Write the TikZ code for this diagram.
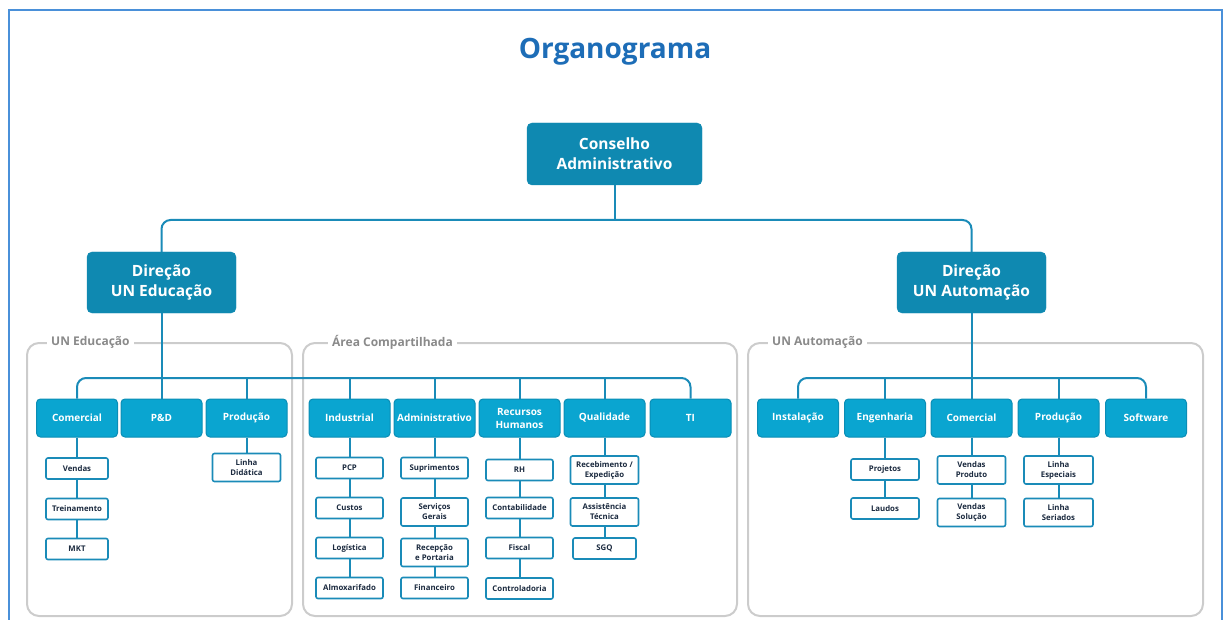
\documentclass[tikz,border=0pt]{standalone}
\usepackage{fontspec}
\setmainfont{Open Sans}
\definecolor{framec}{HTML}{4A90D9}
\definecolor{titlec}{HTML}{1D6DB7}
\definecolor{topc}{HTML}{0F89B1}
\definecolor{midc}{HTML}{0AA5D0}
\definecolor{midb}{HTML}{0B8DB5}
\definecolor{linec}{HTML}{1A8BB8}
\definecolor{grpc}{HTML}{CCCCCC}
\definecolor{grpt}{HTML}{8A8A8A}
\definecolor{smallt}{HTML}{1B2A3F}
\tikzset{
  topbox/.style={draw=topc,fill=topc,rounded corners=5pt,text=white,align=center,
    font=\bfseries\fontsize{15.5}{20}\selectfont,minimum height=61pt,inner sep=0pt},
  midbox/.style={draw=midb,line width=1pt,fill=midc,rounded corners=4pt,text=white,align=center,
    font=\bfseries\fontsize{10}{13}\selectfont,minimum width=81pt,minimum height=38pt,inner sep=0pt},
  smallbox/.style={draw=linec,line width=1.6pt,fill=white,rounded corners=2pt,text=smallt,align=center,
    font=\bfseries\fontsize{7.8}{10}\selectfont,minimum width=67pt,minimum height=21pt,inner sep=0pt},
  twoline/.style={minimum height=28pt},
  conn/.style={draw=linec,line width=2pt},
  grp/.style={draw=grpc,line width=2pt,rounded corners=12pt},
  grplabel/.style={fill=white,text=grpt,font=\bfseries\fontsize{12}{14}\selectfont,inner xsep=4pt,inner ysep=1pt,anchor=west}
}
\begin{document}
\begin{tikzpicture}[x=1pt,y=-1pt]
\useasboundingbox (0,0) rectangle (1223,620);
% frame
\draw[framec,line width=2pt] (9,620) -- (9,10) -- (1222,10) -- (1222,620);
\node[text=titlec,font=\bfseries\fontsize{28}{32}\selectfont] (title) at (615,52) {Organograma};
% groups
\draw[grp] (27,343) rectangle (292,616);
\draw[grp] (303,343) rectangle (737,616);
\draw[grp] (748,343) rectangle (1203,616);
\node[grplabel] (lE) at (47,342) {UN Educação};
\node[grplabel] (lC) at (328,342) {Área Compartilhada};
\node[grplabel] (lA) at (768,342) {UN Automação};
% top
\node[topbox,minimum width=175pt,minimum height=62pt] (cons) at (614.5,154) {Conselho\\Administrativo};
\node[topbox,minimum width=149pt] (dirE) at (161.5,282.5) {Direção\\UN Educação};
\node[topbox,minimum width=149pt] (dirA) at (971.5,282.5) {Direção\\UN Automação};
% mid level
\node[midbox] (comE) at (77,418) {Comercial};
\node[midbox] (pd) at (161.5,418) {P\&D};
\node[midbox] (prodE) at (246.5,418) {Produção};
\node[midbox] (ind) at (349.5,418) {Industrial};
\node[midbox] (adm) at (434.5,418) {Administrativo};
\node[midbox] (rh) at (519.5,418) {Recursos\\Humanos};
\node[midbox] (qual) at (604.5,418) {Qualidade};
\node[midbox] (ti) at (690.5,418) {TI};
\node[midbox] (inst) at (798,418) {Instalação};
\node[midbox] (eng) at (885,418) {Engenharia};
\node[midbox] (comA) at (971.5,418) {Comercial};
\node[midbox] (prodA) at (1058.5,418) {Produção};
\node[midbox] (soft) at (1146,418) {Software};
% small boxes
\node[smallbox,minimum width=62pt] (ven) at (77,468.5) {Vendas};
\node[smallbox,minimum width=62pt] (trei) at (77,509) {Treinamento};
\node[smallbox,minimum width=62pt] (mkt) at (77,549) {MKT};
\node[smallbox,twoline,minimum width=68pt] (lid) at (246.5,467.5) {Linha\\Didática};
\node[smallbox] (pcp) at (349.5,468) {PCP};
\node[smallbox] (cus) at (349.5,508) {Custos};
\node[smallbox] (logi) at (349.5,548) {Logística};
\node[smallbox] (alm) at (349.5,588) {Almoxarifado};
\node[smallbox] (sup) at (434.5,468) {Suprimentos};
\node[smallbox,twoline] (serv) at (434.5,512) {Serviços\\Gerais};
\node[smallbox,twoline] (rec) at (434.5,552.5) {Recepção\\e Portaria};
\node[smallbox] (fin) at (434.5,588) {Financeiro};
\node[smallbox] (rhs) at (519.5,470) {RH};
\node[smallbox] (cont) at (519.5,508) {Contabilidade};
\node[smallbox] (fis) at (519.5,548) {Fiscal};
\node[smallbox] (ctrl) at (519.5,588.5) {Controladoria};
\node[smallbox,twoline,minimum width=68pt] (receb) at (604.5,470) {Recebimento /\\Expedição};
\node[smallbox,twoline,minimum width=68pt] (assi) at (604.5,512) {Assistência\\Técnica};
\node[smallbox,minimum width=63pt] (sgq) at (604.5,548.5) {SGQ};
\node[smallbox,minimum width=68pt] (proj) at (885,469.5) {Projetos};
\node[smallbox,minimum width=68pt] (lau) at (885,508.5) {Laudos};
\node[smallbox,twoline,minimum width=68pt] (vp) at (971.5,470) {Vendas\\Produto};
\node[smallbox,twoline,minimum width=68pt] (vs) at (971.5,512.5) {Vendas\\Solução};
\node[smallbox,twoline,minimum width=69pt] (le) at (1058.5,470) {Linha\\Especiais};
\node[smallbox,twoline,minimum width=69pt] (ls) at (1058.5,512.5) {Linha\\Seriados};
% helper levels
\coordinate (ytop) at (0,220);
\coordinate (ybus) at (0,378);
% top connectors
\draw[conn] (cons.south) -- (cons.south |- ytop);
\draw[conn,rounded corners=9pt] (dirE.north) -- (dirE.north |- ytop) -- (dirA.north |- ytop) -- (dirA.north);
% buses
\draw[conn] (dirE.south) -- (pd.north);
\draw[conn,rounded corners=9pt] (comE.north) -- (comE.north |- ybus) -- (ti.north |- ybus) -- (ti.north);
\foreach \n in {prodE,ind,adm,rh,qual} \draw[conn] (\n.north) -- (\n.north |- ybus);
\draw[conn] (dirA.south) -- (comA.north);
\draw[conn,rounded corners=9pt] (inst.north) -- (inst.north |- ybus) -- (soft.north |- ybus) -- (soft.north);
\foreach \n in {eng,prodA} \draw[conn] (\n.north) -- (\n.north |- ybus);
% columns
\draw[conn] (comE.south) -- (ven.north);
\draw[conn] (ven.south) -- (trei.north);
\draw[conn] (trei.south) -- (mkt.north);
\draw[conn] (prodE.south) -- (lid.north);
\draw[conn] (ind.south) -- (pcp.north);
\draw[conn] (pcp.south) -- (cus.north);
\draw[conn] (cus.south) -- (logi.north);
\draw[conn] (logi.south) -- (alm.north);
\draw[conn] (adm.south) -- (sup.north);
\draw[conn] (sup.south) -- (serv.north);
\draw[conn] (serv.south) -- (rec.north);
\draw[conn] (rec.south) -- (fin.north);
\draw[conn] (rh.south) -- (rhs.north);
\draw[conn] (rhs.south) -- (cont.north);
\draw[conn] (cont.south) -- (fis.north);
\draw[conn] (fis.south) -- (ctrl.north);
\draw[conn] (qual.south) -- (receb.north);
\draw[conn] (receb.south) -- (assi.north);
\draw[conn] (assi.south) -- (sgq.north);
\draw[conn] (eng.south) -- (proj.north);
\draw[conn] (proj.south) -- (lau.north);
\draw[conn] (comA.south) -- (vp.north);
\draw[conn] (vp.south) -- (vs.north);
\draw[conn] (prodA.south) -- (le.north);
\draw[conn] (le.south) -- (ls.north);
\end{tikzpicture}
\end{document}
